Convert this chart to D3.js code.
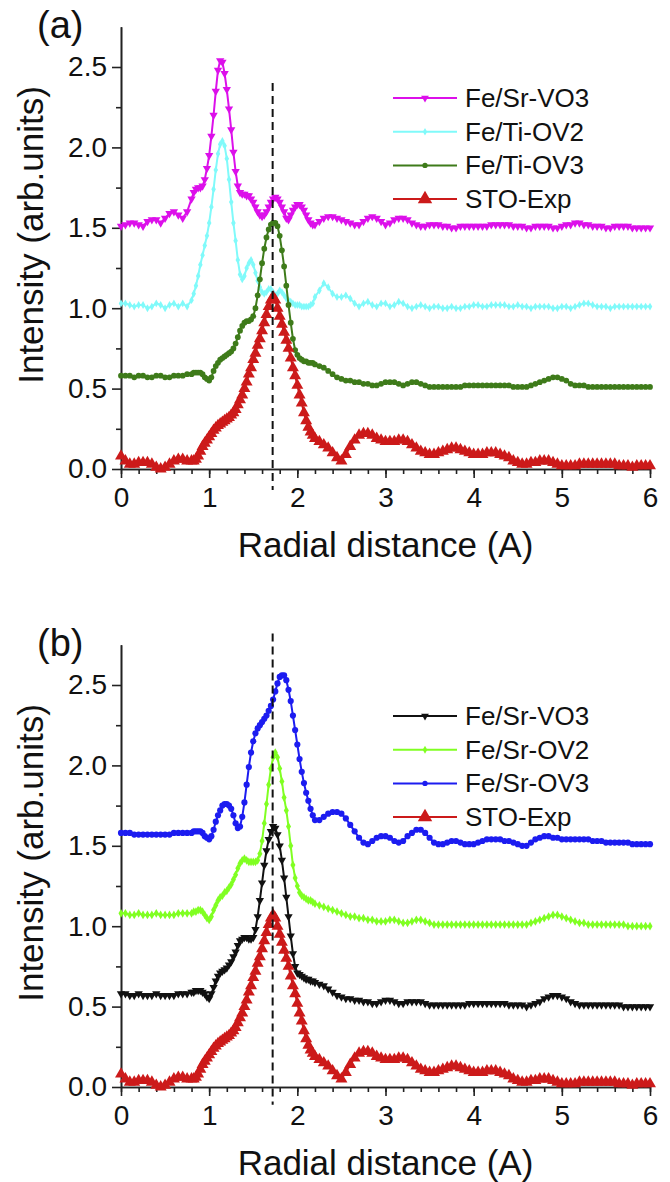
<!DOCTYPE html>
<meta charset="utf-8">
<style>
body { margin: 0; background: #fff; }
svg text { font-family: "Liberation Sans", Arial, sans-serif; fill: #111; }
.axis path, .axis line { stroke: #222; stroke-width: 1.6; }
.axis text { font-size: 28px; }
.title { font-size: 35px; }
.panel-label { font-size: 38px; }
.legend text { font-size: 26px; }
</style>
<body>
<script src="https://cdn.jsdelivr.net/npm/d3@7"></script>
<script>

// sampling positions (A): 0.05 step, 0.025 step around the main peaks
var xGrid = [].concat(
  d3.range(0, 16).map(function(i) { return i * 0.05; }),
  d3.range(0, 56).map(function(i) { return 0.8 + i * 0.025; }),
  d3.range(0, 77).map(function(i) { return 2.2 + i * 0.05; })
);

var xTicks = [0, 1, 2, 3, 4, 5, 6];
var yTicks = [0, 0.5, 1.0, 1.5, 2.0, 2.5];
var peakLine = 1.72;

var stoExp = [
  0.08,0.05,0.03,0.03,0.04,0.04,0.04,0.03,0.01,0.00,0.01,0.03,0.05,0.06,0.06,0.05,
  0.05,0.05,0.06,0.08,0.11,0.14,0.16,0.18,0.20,0.22,0.24,0.255,0.27,0.28,0.29,0.30,0.31,0.32,0.335,0.35,0.37,0.40,0.43,0.46,0.50,0.54,0.59,0.63,
  0.68,0.72,0.77,0.81,0.86,0.91,0.96,1.01,1.05,1.07,1.05,1.00,0.95,0.90,0.85,0.80,0.75,0.69,0.63,0.58,0.52,0.46,0.41,0.35,0.30,0.26,0.23,0.21,
  0.19,0.17,0.15,0.13,0.10,0.07,0.05,0.09,0.14,0.18,0.21,0.22,0.22,0.21,0.19,0.18,
  0.17,0.17,0.17,0.18,0.18,0.17,0.15,0.13,0.11,0.10,0.09,0.09,0.10,0.11,0.12,0.13,0.13,0.12,0.11,0.10,
  0.09,0.09,0.09,0.10,0.10,0.10,0.09,0.08,0.07,0.05,0.04,0.03,0.03,0.04,0.04,0.05,0.05,0.05,0.04,0.03,
  0.02,0.02,0.02,0.02,0.03,0.03,0.03,0.03,0.03,0.03,0.03,0.03,0.03,0.02,0.02,0.02,0.01,0.02,0.02,0.02,0.02
];

var srVO3a = [
  1.51,1.52,1.53,1.53,1.52,1.51,1.54,1.55,1.55,1.53,1.56,1.59,1.60,1.58,1.56,1.60,
  1.68,1.72,1.74,1.75,1.75,1.76,1.80,1.87,1.95,2.07,2.20,2.35,2.48,2.54,2.53,2.46,2.36,2.24,2.11,1.97,1.85,1.76,1.72,1.71,1.71,1.70,1.70,1.68,
  1.66,1.63,1.60,1.58,1.57,1.58,1.60,1.63,1.66,1.68,1.69,1.68,1.66,1.63,1.60,1.56,1.55,1.58,1.61,1.63,1.645,1.645,1.63,1.61,1.58,1.55,1.53,1.52,
  1.52,1.54,1.56,1.57,1.57,1.56,1.55,1.54,1.53,1.52,1.52,1.54,1.56,1.57,1.56,1.54,
  1.52,1.53,1.55,1.56,1.56,1.55,1.53,1.52,1.51,1.51,1.52,1.52,1.52,1.51,1.51,1.50,1.50,1.51,1.51,1.51,
  1.51,1.51,1.51,1.51,1.52,1.52,1.52,1.52,1.52,1.51,1.51,1.51,1.50,1.50,1.51,1.51,1.51,1.51,1.50,1.50,
  1.51,1.52,1.52,1.53,1.53,1.52,1.52,1.51,1.51,1.51,1.50,1.50,1.51,1.51,1.51,1.51,1.50,1.50,1.50,1.50,1.50
];

var tiOV2 = [
  1.03,1.03,1.02,1.01,1.02,1.02,1.00,1.01,1.03,1.02,1.00,1.02,1.03,1.01,1.03,1.01,
  1.05,1.09,1.14,1.20,1.27,1.33,1.39,1.45,1.53,1.63,1.74,1.86,1.96,2.02,2.04,2.01,1.93,1.80,1.66,1.53,1.42,1.30,1.21,1.18,1.20,1.25,1.28,1.30,
  1.27,1.22,1.17,1.13,1.10,1.09,1.10,1.12,1.12,1.10,1.08,1.09,1.11,1.10,1.08,1.06,1.05,1.04,1.03,1.02,1.02,1.02,1.01,1.01,1.01,1.01,1.02,1.03,
  1.07,1.11,1.155,1.13,1.09,1.07,1.07,1.08,1.06,1.03,1.01,1.03,1.04,1.02,1.01,1.03,
  1.03,1.01,1.02,1.04,1.03,1.01,1.00,1.01,1.02,1.01,1.00,1.01,1.01,1.00,1.00,1.01,1.00,1.00,1.01,1.01,
  1.02,1.02,1.01,1.01,1.02,1.02,1.02,1.02,1.01,1.01,1.02,1.01,1.01,1.00,1.01,1.01,1.01,1.01,1.00,1.00,
  1.01,1.01,1.00,1.01,1.02,1.03,1.03,1.02,1.01,1.01,1.01,1.00,1.01,1.01,1.01,1.01,1.01,1.01,1.01,1.01,1.01
];

var tiOV3 = [
  0.58,0.58,0.58,0.57,0.58,0.58,0.57,0.57,0.58,0.58,0.57,0.57,0.58,0.58,0.58,0.59,
  0.59,0.60,0.60,0.60,0.60,0.59,0.57,0.56,0.55,0.57,0.61,0.64,0.66,0.68,0.69,0.70,0.71,0.72,0.73,0.75,0.78,0.82,0.86,0.89,0.91,0.92,0.92,0.93,
  0.95,1.00,1.08,1.18,1.28,1.37,1.44,1.49,1.52,1.53,1.53,1.51,1.45,1.36,1.26,1.14,1.02,0.91,0.81,0.74,0.71,0.69,0.68,0.67,0.67,0.66,0.66,0.66,
  0.65,0.64,0.63,0.61,0.59,0.57,0.56,0.55,0.55,0.54,0.54,0.53,0.53,0.52,0.52,0.53,
  0.54,0.54,0.54,0.53,0.52,0.53,0.54,0.54,0.53,0.52,0.51,0.51,0.51,0.51,0.51,0.51,0.51,0.51,0.52,0.52,
  0.52,0.52,0.52,0.52,0.52,0.52,0.52,0.52,0.52,0.51,0.51,0.51,0.51,0.52,0.53,0.54,0.55,0.56,0.57,0.57,
  0.56,0.55,0.53,0.52,0.52,0.52,0.51,0.51,0.51,0.51,0.51,0.51,0.51,0.51,0.51,0.51,0.51,0.51,0.51,0.51,0.51
];

var srVO3b = [
  0.58,0.58,0.57,0.57,0.58,0.57,0.57,0.57,0.58,0.57,0.57,0.57,0.57,0.58,0.58,0.58,
  0.59,0.59,0.60,0.60,0.60,0.59,0.58,0.56,0.55,0.58,0.62,0.66,0.69,0.71,0.72,0.73,0.74,0.76,0.78,0.81,0.84,0.88,0.91,0.92,0.93,0.93,0.92,0.92,
  0.93,0.98,1.06,1.16,1.27,1.38,1.47,1.54,1.59,1.62,1.61,1.57,1.50,1.41,1.30,1.18,1.06,0.94,0.83,0.75,0.71,0.70,0.69,0.68,0.67,0.67,0.66,0.66,
  0.65,0.64,0.63,0.61,0.59,0.57,0.56,0.55,0.55,0.54,0.54,0.53,0.53,0.52,0.52,0.53,
  0.54,0.54,0.53,0.52,0.52,0.53,0.53,0.53,0.53,0.52,0.51,0.51,0.51,0.51,0.51,0.51,0.51,0.51,0.51,0.52,
  0.52,0.52,0.52,0.52,0.52,0.52,0.52,0.52,0.51,0.51,0.51,0.51,0.50,0.51,0.52,0.53,0.55,0.56,0.57,0.57,
  0.56,0.55,0.53,0.52,0.51,0.51,0.51,0.51,0.51,0.51,0.51,0.51,0.51,0.51,0.50,0.50,0.50,0.50,0.50,0.50,0.50
];

var srOV2 = [
  1.08,1.08,1.07,1.07,1.08,1.07,1.07,1.07,1.08,1.07,1.07,1.07,1.07,1.08,1.08,1.08,
  1.08,1.09,1.09,1.10,1.10,1.09,1.07,1.05,1.04,1.06,1.10,1.13,1.16,1.18,1.19,1.21,1.22,1.24,1.26,1.29,1.32,1.36,1.39,1.41,1.42,1.41,1.40,1.40,
  1.40,1.40,1.41,1.45,1.53,1.64,1.76,1.88,1.98,2.05,2.08,2.05,1.98,1.90,1.80,1.72,1.62,1.50,1.38,1.30,1.25,1.21,1.19,1.18,1.17,1.16,1.16,1.15,
  1.14,1.13,1.12,1.11,1.10,1.09,1.08,1.07,1.06,1.06,1.05,1.05,1.04,1.04,1.03,1.03,
  1.03,1.04,1.04,1.03,1.02,1.02,1.03,1.04,1.04,1.03,1.02,1.01,1.01,1.01,1.01,1.01,1.01,1.01,1.01,1.01,
  1.01,1.01,1.01,1.01,1.01,1.01,1.01,1.01,1.01,1.01,1.01,1.01,1.01,1.02,1.03,1.04,1.05,1.06,1.07,1.07,
  1.06,1.05,1.04,1.03,1.02,1.02,1.01,1.01,1.01,1.01,1.01,1.01,1.01,1.01,1.01,1.00,1.00,1.00,1.00,1.00,1.00
];

var srOV3 = [
  1.58,1.58,1.58,1.57,1.57,1.57,1.57,1.57,1.57,1.57,1.57,1.57,1.58,1.58,1.58,1.58,
  1.58,1.59,1.59,1.59,1.59,1.58,1.56,1.55,1.54,1.56,1.60,1.65,1.69,1.72,1.75,1.76,1.76,1.75,1.73,1.69,1.64,1.61,1.62,1.68,1.77,1.88,1.99,2.08,
  2.15,2.20,2.23,2.25,2.27,2.29,2.31,2.34,2.37,2.41,2.46,2.51,2.55,2.56,2.56,2.53,2.47,2.40,2.31,2.22,2.13,2.04,1.96,1.89,1.83,1.78,1.73,1.69,
  1.66,1.66,1.68,1.70,1.71,1.71,1.70,1.67,1.63,1.59,1.55,1.52,1.51,1.53,1.55,1.56,
  1.56,1.55,1.53,1.52,1.53,1.56,1.58,1.60,1.60,1.58,1.55,1.52,1.51,1.51,1.52,1.53,1.53,1.52,1.51,1.51,
  1.51,1.52,1.53,1.54,1.54,1.54,1.54,1.53,1.53,1.52,1.51,1.50,1.50,1.52,1.54,1.55,1.56,1.56,1.55,1.55,
  1.54,1.54,1.54,1.54,1.54,1.54,1.54,1.53,1.53,1.53,1.52,1.52,1.52,1.52,1.52,1.52,1.51,1.51,1.51,1.51,1.51
];

var panels = [
  { label: "(a)", offset: 0, dash: [2.40, -0.13], series: [
      { name: "Fe/Sr-VO3", values: srVO3a, color: "#dc10ea", shape: "down", size: 30, lsize: 26 },
      { name: "Fe/Ti-OV2", values: tiOV2, color: "#80fafa", shape: "diamond", size: 18, lsize: 16 },
      { name: "Fe/Ti-OV3", values: tiOV3, color: "#3e7b1a", shape: "circle", size: 26, lsize: 22 },
      { name: "STO-Exp", values: stoExp, color: "#cc1a1a", shape: "up", size: 62, lsize: 90 } ] },
  { label: "(b)", offset: 618, dash: [2.82, -0.11], series: [
      { name: "Fe/Sr-VO3", values: srVO3b, color: "#111111", shape: "down", size: 30, lsize: 26 },
      { name: "Fe/Sr-OV2", values: srOV2, color: "#80ff22", shape: "diamond", size: 22, lsize: 18 },
      { name: "Fe/Sr-OV3", values: srOV3, color: "#1c1cf0", shape: "circle", size: 30, lsize: 22 },
      { name: "STO-Exp", values: stoExp, color: "#cc1a1a", shape: "up", size: 62, lsize: 90 } ] }
];

var svg = d3.select("body").append("svg")
    .attr("width", 670)
    .attr("height", 1182);

var x = d3.scaleLinear().domain([0, 6]).range([121, 650]);

function marker(shape, size) {
  var t = shape == "circle" ? d3.symbolCircle : shape == "diamond" ? d3.symbolDiamond : d3.symbolTriangle;
  return d3.symbol().type(t).size(size)();
}
function rot(shape) { return shape == "down" ? " rotate(180)" : ""; }

panels.forEach(function(p) {
  var top = p.offset;
  var y = d3.scaleLinear().domain([0, 2.75]).range([top + 469, top + 26.8]);
  var g = svg.append("g");

  // minor ticks
  g.append("g")
    .attr("class", "axis")
    .attr("transform", "translate(0," + y(0) + ")")
    .call(d3.axisBottom(x).tickValues(d3.range(0, 31).map(function(i) { return i * 0.2; }))
      .tickSize(5).tickSizeOuter(0).tickFormat(""));
  g.append("g")
    .attr("class", "axis")
    .attr("transform", "translate(" + x(0) + ",0)")
    .call(d3.axisLeft(y).tickValues([0.25, 0.75, 1.25, 1.75, 2.25])
      .tickSize(5).tickSizeOuter(0).tickFormat(""));

  // major ticks
  g.append("g")
    .attr("class", "axis")
    .attr("transform", "translate(0," + y(0) + ")")
    .call(d3.axisBottom(x).tickValues(xTicks).tickSize(9).tickSizeOuter(0)
      .tickPadding(9).tickFormat(d3.format("d")));
  g.append("g")
    .attr("class", "axis")
    .attr("transform", "translate(" + x(0) + ",0)")
    .call(d3.axisLeft(y).tickValues(yTicks).tickSize(9).tickSizeOuter(0)
      .tickPadding(5).tickFormat(d3.format(".1f")));

  var line = d3.line()
    .x(function(d, i) { return x(xGrid[i]); })
    .y(function(d) { return y(d); });

  p.series.forEach(function(s) {
    g.append("path")
      .datum(s.values)
      .attr("fill", "none")
      .attr("stroke", s.color)
      .attr("stroke-width", 2)
      .attr("d", line);
    g.append("g").selectAll("path")
      .data(s.values)
      .enter().append("path")
        .attr("d", marker(s.shape, s.size))
        .attr("fill", s.color)
        .attr("transform", function(d, i) { return "translate(" + x(xGrid[i]) + "," + y(d) + ")" + rot(s.shape); });
  });

  // dashed marker line
  g.append("line")
    .attr("x1", x(peakLine)).attr("x2", x(peakLine))
    .attr("y1", y(p.dash[0])).attr("y2", y(p.dash[1]))
    .attr("stroke", "#111")
    .attr("stroke-width", 2)
    .attr("stroke-dasharray", "8,5");

  // legend
  var leg = g.append("g").attr("class", "legend");
  p.series.forEach(function(s, i) {
    var ly = top + 98 + i * 33.7;
    leg.append("line")
      .attr("x1", 393).attr("x2", 457)
      .attr("y1", ly).attr("y2", ly)
      .attr("stroke", s.color).attr("stroke-width", 2);
    leg.append("path")
      .attr("d", marker(s.shape, s.lsize))
      .attr("fill", s.color)
      .attr("transform", "translate(425," + ly + ")" + rot(s.shape));
    leg.append("text")
      .attr("x", 465)
      .attr("y", ly + 9)
      .text(s.name);
  });

  g.append("text")
    .attr("class", "title")
    .attr("x", (x(0) + x(6)) / 2)
    .attr("y", top + 557)
    .style("text-anchor", "middle")
    .text("Radial distance (A)");

  g.append("text")
    .attr("class", "title")
    .attr("transform", "translate(43," + (top + 235) + ") rotate(-90)")
    .style("text-anchor", "middle")
    .text("Intensity (arb.units)");

  g.append("text")
    .attr("class", "panel-label")
    .attr("x", 37)
    .attr("y", top + 38)
    .text(p.label);
});

</script>
</body>
